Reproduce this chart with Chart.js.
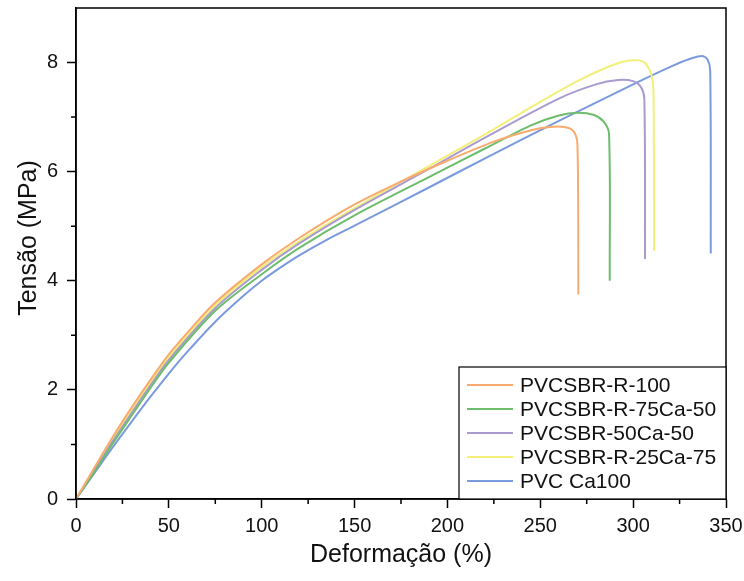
<!DOCTYPE html>
<html>
<head>
<meta charset="utf-8">
<script src="https://cdn.jsdelivr.net/npm/chart.js@4/dist/chart.umd.min.js"></script>
<style>
  body { margin: 0; background: #fff; }
  #wrap { width: 744px; height: 581px; }
</style>
</head>
<body>
<div id="wrap"><canvas id="tensileChart" width="744" height="581"></canvas></div>
<script>
// series labels and colours
const seriesNames = ['PVCSBR-R-100', 'PVCSBR-R-75Ca-50', 'PVCSBR-50Ca-50', 'PVCSBR-R-25Ca-75', 'PVC Ca100'];
const seriesColors = ['#f9aa6e', '#6dbd6d', '#a99bcf', '#f3ef78', '#7b9ade'];

// strain (%) / stress (MPa)
const strainR100 = [0, 10, 20, 30, 40, 50, 60, 75, 100, 120, 150, 175, 200, 225, 245, 255, 263, 268, 270, 270.5];
const stressR100 = [0, 0.58, 1.15, 1.68, 2.18, 2.65, 3.05, 3.6, 4.3, 4.78, 5.4, 5.82, 6.2, 6.55, 6.76, 6.82, 6.82, 6.74, 6.5, 3.75];

const strainR75 = [0, 10, 20, 30, 40, 50, 75, 100, 120, 150, 190, 220, 245, 260, 270, 279, 284, 287, 287.4];
const stressR75 = [0, 0.5, 1.03, 1.53, 2.03, 2.5, 3.45, 4.12, 4.6, 5.2, 5.9, 6.42, 6.85, 7.03, 7.08, 7.04, 6.92, 6.7, 4.0];

const strain50 = [0, 10, 20, 30, 40, 50, 75, 100, 120, 150, 190, 220, 260, 280, 292, 300, 304, 306, 306.4];
const stress50 = [0, 0.53, 1.07, 1.58, 2.08, 2.55, 3.5, 4.2, 4.68, 5.3, 6.05, 6.62, 7.34, 7.6, 7.68, 7.66, 7.56, 7.35, 4.4];

const strainR25 = [0, 10, 20, 30, 40, 50, 75, 100, 120, 150, 190, 220, 250, 270, 285, 295, 303, 307, 310, 311, 311.3];
const stressR25 = [0, 0.55, 1.1, 1.62, 2.12, 2.6, 3.55, 4.25, 4.72, 5.33, 6.1, 6.68, 7.28, 7.66, 7.9, 8.02, 8.04, 7.97, 7.75, 7.4, 4.55];

const strainCa100 = [0, 10, 20, 30, 40, 50, 60, 75, 90, 100, 110, 120, 135, 150, 190, 220, 260, 300, 320, 330, 337, 340, 341.5, 341.8];
const stressCa100 = [0, 0.48, 0.96, 1.42, 1.87, 2.3, 2.7, 3.25, 3.72, 4.0, 4.24, 4.46, 4.75, 5.01, 5.71, 6.24, 6.93, 7.6, 7.92, 8.06, 8.12, 8.06, 7.85, 4.5];

// axis ticks
const xMajorTicks = [0, 50, 100, 150, 200, 250, 300, 350];
const xMinorTicks = [25, 75, 125, 175, 225, 275, 325];
const yMajorTicks = [0, 2, 4, 6, 8];
const yMinorTicks = [1, 3, 5, 7];

const xTitle = 'Deformação (%)';
const yTitle = 'Tensão (MPa)';

const FONT = '"Liberation Sans", Arial, sans-serif';

function toPoints(xs, ys) {
    return xs.map((x, i) => ({ x: x, y: ys[i] }));
}

const seriesData = [
    toPoints(strainR100, stressR100),
    toPoints(strainR75, stressR75),
    toPoints(strain50, stress50),
    toPoints(strainR25, stressR25),
    toPoints(strainCa100, stressCa100)
];

// frame, minor ticks, axis titles and the legend box
const decorations = {
    id: 'decorations',
    afterDraw(chart) {
        const ctx = chart.ctx;
        const area = chart.chartArea;
        const xs = chart.scales.x;
        const ys = chart.scales.y;
        ctx.save();

        ctx.strokeStyle = '#000';
        ctx.lineWidth = 1.5;
        ctx.strokeRect(area.left, area.top, area.right - area.left, area.bottom - area.top);

        ctx.beginPath();
        xMinorTicks.forEach(v => {
            const px = xs.getPixelForValue(v);
            ctx.moveTo(px, area.bottom);
            ctx.lineTo(px, area.bottom + 5);
        });
        yMinorTicks.forEach(v => {
            const py = ys.getPixelForValue(v);
            ctx.moveTo(area.left, py);
            ctx.lineTo(area.left - 5, py);
        });
        ctx.stroke();

        ctx.fillStyle = '#111';
        ctx.font = '25px ' + FONT;
        ctx.textAlign = 'center';
        ctx.textBaseline = 'middle';
        ctx.fillText(xTitle, (area.left + area.right) / 2, 555);

        ctx.save();
        ctx.translate(29, 238);
        ctx.rotate(-Math.PI / 2);
        ctx.fillText(yTitle, 0, 0);
        ctx.restore();

        // legend
        const boxW = 267, boxH = 132;
        const bx = area.right - boxW, by = area.bottom - boxH;
        ctx.fillStyle = '#fff';
        ctx.fillRect(bx, by, boxW, boxH);
        ctx.lineWidth = 1.2;
        ctx.strokeStyle = '#000';
        ctx.strokeRect(bx, by, boxW, boxH);
        ctx.font = '21px ' + FONT;
        ctx.textAlign = 'left';
        chart.data.datasets.forEach((ds, i) => {
            const cy = by + 18 + i * 24;
            ctx.strokeStyle = ds.borderColor;
            ctx.lineWidth = 2;
            ctx.beginPath();
            ctx.moveTo(bx + 8, cy);
            ctx.lineTo(bx + 54, cy);
            ctx.stroke();
            ctx.fillStyle = '#111';
            ctx.fillText(ds.label, bx + 61, cy + 1);
        });
        ctx.restore();
    }
};

new Chart(document.getElementById('tensileChart'), {
    type: 'scatter',
    data: {
        datasets: seriesNames.map((name, i) => ({
            label: name,
            data: seriesData[i],
            showLine: true,
            borderColor: seriesColors[i],
            backgroundColor: seriesColors[i],
            borderWidth: 2,
            pointRadius: 0,
            tension: 0.3
        }))
    },
    options: {
        responsive: false,
        animation: false,
        layout: { padding: { left: 0, top: 8, right: 18, bottom: 0 } },
        plugins: {
            legend: { display: false },
            tooltip: { enabled: false }
        },
        scales: {
            x: {
                type: 'linear',
                min: 0,
                max: 350,
                afterFit(scale) {
                    scale.height = 82;
                    scale.paddingLeft = 0;
                    scale.paddingRight = 0;
                },
                afterBuildTicks(scale) { scale.ticks = xMajorTicks.map(v => ({ value: v })); },
                border: { color: '#000', width: 1.5 },
                grid: { drawOnChartArea: false, tickLength: 9, tickColor: '#000', tickWidth: 1.5 },
                ticks: { color: '#111', padding: 6, maxRotation: 0, font: { family: FONT, size: 20 } }
            },
            y: {
                type: 'linear',
                min: 0,
                max: 9,
                afterFit(scale) {
                    scale.width = 76;
                    scale.paddingTop = 0;
                    scale.paddingBottom = 0;
                },
                afterBuildTicks(scale) { scale.ticks = yMajorTicks.map(v => ({ value: v })); },
                border: { color: '#000', width: 1.5 },
                grid: { drawOnChartArea: false, tickLength: 9, tickColor: '#000', tickWidth: 1.5 },
                ticks: { color: '#111', padding: 9, font: { family: FONT, size: 20 } }
            }
        }
    },
    plugins: [decorations]
});
</script>
</body>
</html>
